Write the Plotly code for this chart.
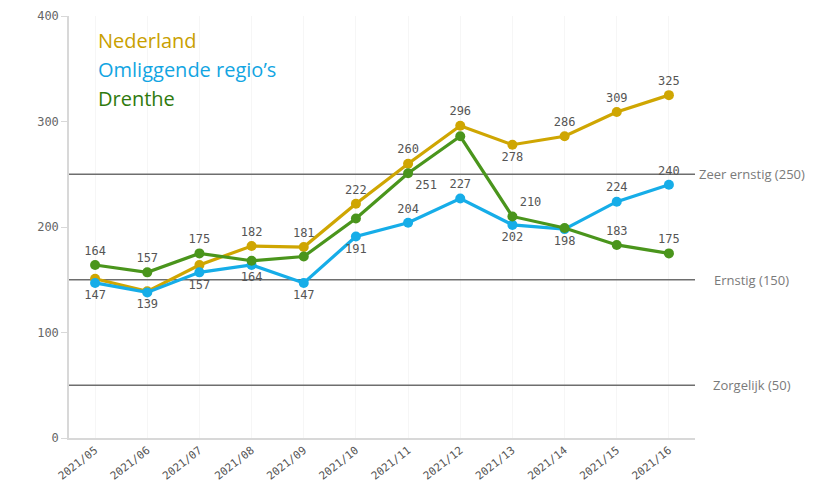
import plotly.graph_objects as go

weeks = ["2021/05", "2021/06", "2021/07", "2021/08", "2021/09", "2021/10",
         "2021/11", "2021/12", "2021/13", "2021/14", "2021/15", "2021/16"]
nederland = [151, 139, 164, 182, 181, 222, 260, 296, 278, 286, 309, 325]
omliggend = [147, 138, 157, 164, 147, 191, 204, 227, 202, 198, 224, 240]
drenthe = [164, 157, 175, 168, 172, 208, 251, 286, 210, 199, 183, 175]

# which points carry a value label
show_ned = [0, 1, 0, 1, 1, 1, 1, 1, 1, 1, 1, 1]
show_oml = [1, 0, 1, 1, 1, 1, 1, 1, 1, 1, 1, 1]
show_dre = [1, 1, 1, 0, 0, 0, 1, 0, 1, 0, 1, 1]

pos_ned = ["top center", "bottom center", "top center", "top center", "top center", "top center",
           "top center", "top center", "bottom center", "top center", "top center", "top center"]
pos_oml = ["bottom center", "bottom center", "bottom center", "bottom center", "bottom center", "bottom center",
           "top center", "top center", "bottom center", "bottom center", "top center", "top center"]
pos_dre = ["top center", "top center", "top center", "top center", "top center", "top center",
           "bottom right", "top center", "top right", "top center", "top center", "top center"]

ref_values = [250, 150, 50]
ref_labels = ["Zeer ernstig (250)", "Ernstig (150)", "Zorgelijk (50)"]

series = [
    ("Nederland", nederland, show_ned, pos_ned, "#CFA602"),
    ("Omliggende regio’s", omliggend, show_oml, pos_oml, "#16ADE8"),
    ("Drenthe", drenthe, show_dre, pos_dre, "#4A951C"),
]
legend_colors = ["#C9A000", "#12A5E2", "#2F7A0E"]

fig = go.Figure()

# reference lines
for v in ref_values:
    fig.add_trace(go.Scatter(
        x=[-0.5, len(weeks) - 0.5], y=[v, v], mode="lines",
        line=dict(color="#6E6E6E", width=1.6), hoverinfo="skip", showlegend=False))

for name, vals, show, pos, col in series:
    fig.add_trace(go.Scatter(
        x=list(range(len(weeks))), y=vals, mode="lines+markers+text",
        name=name,
        line=dict(color=col, width=3.2),
        marker=dict(color=col, size=10),
        text=[str(v) if s else "" for v, s in zip(vals, show)],
        textposition=pos,
        textfont=dict(family="DejaVu Sans Mono", size=12, color="#555555"),
        cliponaxis=False,
        showlegend=False))

for v, lab in zip(ref_values, ref_labels):
    fig.add_annotation(x=1.091, xref="paper", y=v, yref="y", text=lab,
                       showarrow=False, xanchor="center", yanchor="middle",
                       font=dict(family="Open Sans", size=13, color="#7A7A7A"))

for i, ((name, *_), lc) in enumerate(zip(series, legend_colors)):
    fig.add_annotation(x=0.043, xref="paper", y=0.942 - i * 0.0685, yref="paper",
                       text=name, showarrow=False, xanchor="left", yanchor="middle",
                       font=dict(family="Open Sans", size=20, color=lc))

fig.update_layout(
    width=825, height=476,
    margin=dict(l=61, r=138, t=8, b=46),
    paper_bgcolor="white", plot_bgcolor="white",
    font=dict(family="DejaVu Sans Mono", color="#666666"),
    xaxis=dict(
        tickmode="array", tickvals=list(range(len(weeks))), ticktext=weeks,
        range=[-0.5, len(weeks) - 0.5], tickangle=-38,
        showgrid=True, gridcolor="#F6F6F6",
        showline=True, linecolor="#D8D8D8", linewidth=1.5,
        ticks="", tickfont=dict(family="DejaVu Sans Mono", size=11, color="#555555"),
        zeroline=False, automargin=False, ticklabeloverflow="allow"),
    yaxis=dict(
        range=[0, 400], tickvals=[0, 100, 200, 300, 400],
        showgrid=False, showline=True, linecolor="#D8D8D8", linewidth=1.5,
        ticks="outside", ticklen=6, tickcolor="#D8D8D8",
        tickfont=dict(family="DejaVu Sans Mono", size=12, color="#666666"),
        zeroline=False, automargin=False, ticklabeloverflow="allow"),
)

fig.write_html("out.html")
